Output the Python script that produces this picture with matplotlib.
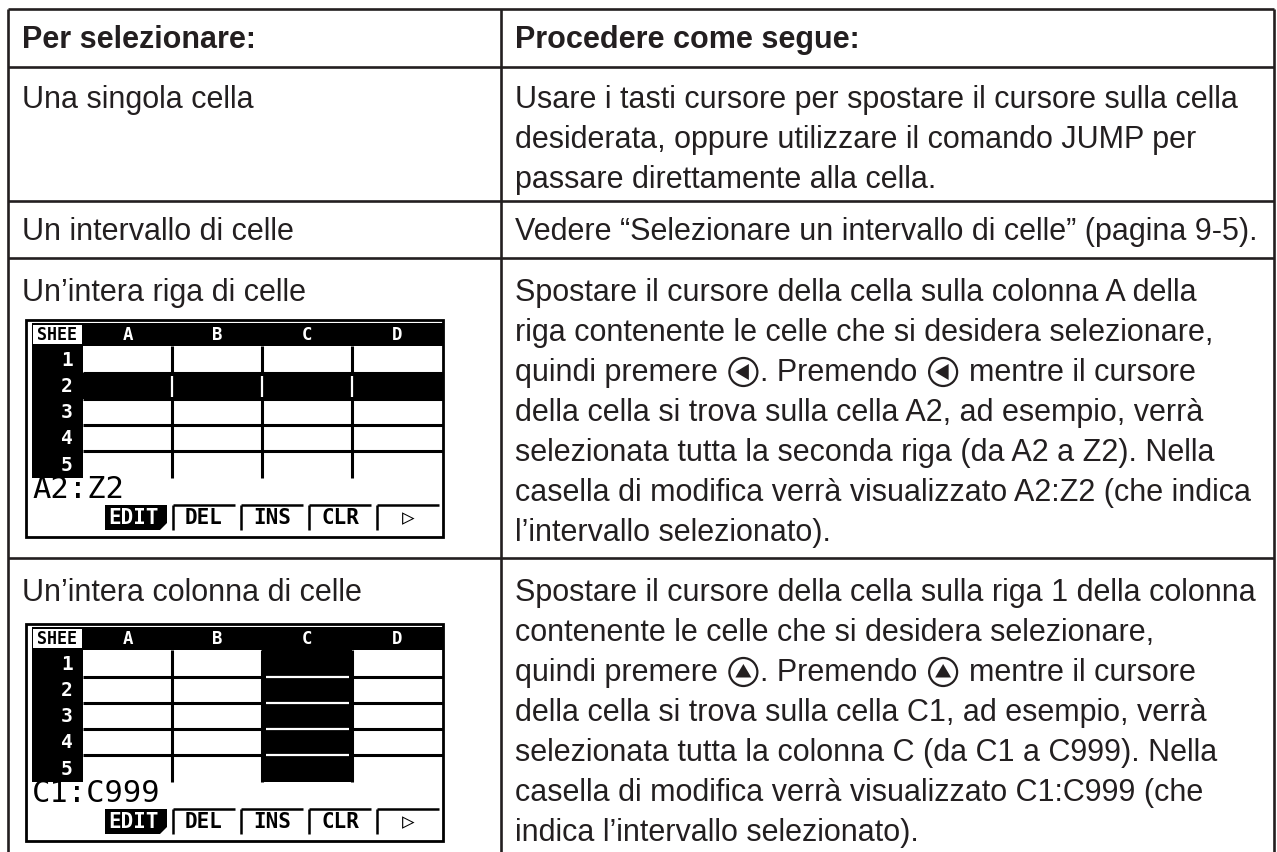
import matplotlib
matplotlib.use("Agg")
import matplotlib.pyplot as plt
from matplotlib.patches import Rectangle, Circle, Polygon

# table content
header = ["Per selezionare:", "Procedere come segue:"]
targets = ["Una singola cella", "Un intervallo di celle",
           "Un\u2019intera riga di celle", "Un\u2019intera colonna di celle"]
steps = [
    ["Usare i tasti cursore per spostare il cursore sulla cella",
     "desiderata, oppure utilizzare il comando JUMP per",
     "passare direttamente alla cella."],
    ["Vedere \u201cSelezionare un intervallo di celle\u201d (pagina 9-5)."],
    ["Spostare il cursore della cella sulla colonna A della",
     "riga contenente le celle che si desidera selezionare,",
     "quindi premere {K}. Premendo {K} mentre il cursore",
     "della cella si trova sulla cella A2, ad esempio, verr\u00e0",
     "selezionata tutta la seconda riga (da A2 a Z2). Nella",
     "casella di modifica verr\u00e0 visualizzato A2:Z2 (che indica",
     "l\u2019intervallo selezionato)."],
    ["Spostare il cursore della cella sulla riga 1 della colonna",
     "contenente le celle che si desidera selezionare,",
     "quindi premere {K}. Premendo {K} mentre il cursore",
     "della cella si trova sulla cella C1, ad esempio, verr\u00e0",
     "selezionata tutta la colonna C (da C1 a C999). Nella",
     "casella di modifica verr\u00e0 visualizzato C1:C999 (che",
     "indica l\u2019intervallo selezionato)."],
]
keys = [None, None, "left", "up"]

# calculator screens
sheet_cols = ["A", "B", "C", "D"]
sheet_rows = ["1", "2", "3", "4", "5"]
softkeys = ["EDIT", "DEL", "INS", "CLR", "\u25b7"]
edit_text = {2: "A2:Z2", 3: "C1:C999"}
sel_row = {2: 1}
sel_col = {3: 2}

W, H = 1277, 852
INK = "#231f20"
FONT = "Liberation Sans"
MONO = ["DejaVu Sans Mono", "DejaVu Sans"]
FS = 22
LEAD = 40

fig = plt.figure(figsize=(W / 100, H / 100), dpi=100)
ax = fig.add_axes([0, 0, 1, 1])
ax.set_xlim(0, W)
ax.set_ylim(H, 0)
ax.axis("off")
renderer = fig.canvas.get_renderer()

x_l, x_r, x_div, y_top = 8, 1274, 501, 9
row_lines = [67, 201, 258, 558]
first_base = [108, 240, 301, 601]
screen_top = {2: 320, 3: 624}
lw_tab = 1.9

# grid of the table
ax.plot([x_l, x_r], [y_top, y_top], color=INK, lw=lw_tab, solid_capstyle="butt")
for y in row_lines:
    ax.plot([x_l, x_r], [y, y], color=INK, lw=lw_tab, solid_capstyle="butt")
for x in (x_l, x_div, x_r):
    ax.plot([x, x], [y_top, H], color=INK, lw=lw_tab, solid_capstyle="butt")

ax.text(22, 48, header[0], fontsize=FS, fontweight="bold", family=FONT, color=INK)
ax.text(515, 48, header[1], fontsize=FS, fontweight="bold", family=FONT, color=INK)


def text_w(s):
    t = ax.text(0, 0, s, fontsize=FS, family=FONT)
    w = t.get_window_extent(renderer).width
    t.remove()
    return w


space_w = text_w("a a") - text_w("aa")


def draw_key(cx, cy, kind):
    r = 14
    ax.add_patch(Circle((cx, cy), r, fill=False, ec=INK, lw=1.6))
    if kind == "left":
        pts = [(cx - 8, cy), (cx + 5.5, cy - 8), (cx + 5.5, cy + 8)]
    else:
        pts = [(cx, cy - 8), (cx - 8, cy + 5.5), (cx + 8, cy + 5.5)]
    ax.add_patch(Polygon(pts, closed=True, fc=INK, ec="none"))


def write_line(x, y, s, kind):
    parts = s.split("{K}")
    for i, p in enumerate(parts):
        lead = len(p) - len(p.lstrip(" "))
        trail = len(p) - len(p.rstrip(" "))
        core = p.strip(" ")
        x += lead * space_w
        if core:
            t = ax.text(x, y, core, fontsize=FS, family=FONT, color=INK)
            x += t.get_window_extent(renderer).width
        x += trail * space_w
        if i < len(parts) - 1:
            draw_key(x + 17, y - 9, kind)
            x += 34


def draw_screen(x0, y0, etext, srow=None, scol=None):
    sw, sh = 417, 217
    cx = [57, 146, 236, 326, 417]
    ry = [26, 53, 79, 105, 131, 158]
    R = lambda x, y, w, h, c: ax.add_patch(
        Rectangle((x0 + x, y0 + y), w, h, fc=c, ec="none"))
    L = lambda xs, ys, c, lw=2.2: ax.plot([x0 + v for v in xs], [y0 + v for v in ys],
                                         color=c, lw=lw, solid_capstyle="butt")
    # header band, number column
    R(6, 3, sw - 6, 23, "black")
    R(6, 26, 51, ry[-1] - 26, "black")
    R(7, 5, 49, 19, "white")
    ax.text(x0 + 31, y0 + 15, "SHEE", family=MONO, fontweight="bold", fontsize=12,
            color="black", ha="center", va="center")
    for j, c in enumerate(sheet_cols):
        ax.text(x0 + (cx[j] + cx[j + 1]) / 2, y0 + 15, c, family=MONO, fontweight="bold",
                fontsize=12.5, color="white", ha="center", va="center")
    for i, r in enumerate(sheet_rows):
        ax.text(x0 + 41, y0 + (ry[i] + ry[i + 1]) / 2 + 1, r, family=MONO, fontweight="bold",
                fontsize=14, color="white", ha="center", va="center")
    # grid
    for y in ry[1:5]:
        L([cx[0], cx[-1]], [y, y], "black")
    for x in cx[1:4]:
        L([x, x], [ry[0], ry[-1]], "black")
    if srow is not None:
        R(cx[0], ry[srow], cx[-1] - cx[0], ry[srow + 1] - ry[srow], "black")
        for x in cx[1:4]:
            L([x, x], [ry[srow] + 3, ry[srow + 1] - 2], "white", 1.6)
    if scol is not None:
        R(cx[scol], ry[0], cx[scol + 1] - cx[scol], ry[-1] - ry[0], "black")
        for y in ry[1:5]:
            L([cx[scol] + 4, cx[scol + 1] - 3], [y, y], "white", 1.6)
    # edit line
    ax.text(x0 + 6, y0 + 170, etext, family=MONO, fontsize=22, color="black",
            ha="left", va="center")
    # soft keys
    for k, lab in enumerate(softkeys):
        kx = 79 + 68 * k
        if k == 0:
            R(kx, 185, 62, 25, "black")
            ax.add_patch(Polygon([(x0 + kx + 62, y0 + 203), (x0 + kx + 62, y0 + 210),
                                  (x0 + kx + 55, y0 + 210)], closed=True,
                                 fc="white", ec="none"))
            ax.text(x0 + kx + 29, y0 + 198, lab, family=MONO, fontweight="bold",
                    fontsize=15, color="white", ha="center", va="center")
        else:
            L([kx, kx + 62], [185, 185], "black", 1.8)
            L([kx, kx], [185, 210], "black", 1.8)
            ax.text(x0 + kx + 31, y0 + 198, lab, family=MONO, fontweight="bold",
                    fontsize=15, color="black", ha="center", va="center")
    # border
    ax.add_patch(Rectangle((x0, y0), sw, sh, fill=False, ec="black", lw=2))


for r in range(4):
    yb = first_base[r]
    ax.text(22, yb, targets[r], fontsize=FS, family=FONT, color=INK)
    for i, line in enumerate(steps[r]):
        write_line(515, yb + i * LEAD, line, keys[r])
    if r in screen_top:
        draw_screen(26, screen_top[r], edit_text[r], sel_row.get(r), sel_col.get(r))

fig.savefig("out.png", dpi=100)
